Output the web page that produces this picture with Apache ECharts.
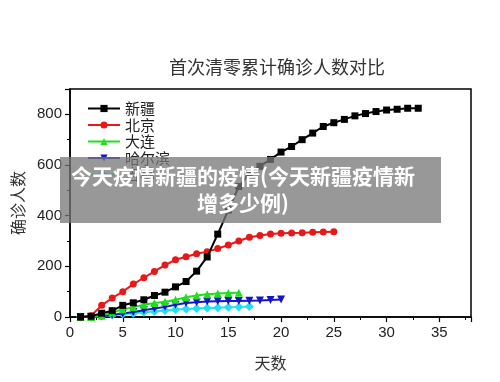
<!DOCTYPE html>
<html><head><meta charset="utf-8">
<script src="https://cdn.jsdelivr.net/npm/echarts@6/dist/echarts.min.js"></script>
<style>html,body{margin:0;padding:0;background:#fff}#c{width:500px;height:382px}</style>
</head><body><div id="c"></div>
<script>
const seriesNames = ['新疆', '北京', '大连', '哈尔滨', '吉林'];
const xinjiang = [0, 3, 15, 25, 46, 56, 68, 85, 98, 119, 140, 181, 237, 327, 422, 515, 568, 595, 622, 651, 673, 700, 726, 752, 767, 780, 794, 803, 811, 817, 820, 824, 824];
const beijing = [0, 5, 46, 75, 100, 130, 155, 180, 205, 226, 238, 250, 258, 270, 284, 300, 315, 322, 328, 331, 332, 333, 335, 336, 337];
const dalian = [0, 0, 5, 18, 30, 39, 48, 55, 60, 68, 78, 85, 90, 93, 95, 96];
const harbin = [0, 0, 3, 8, 14, 20, 27, 34, 40, 48, 55, 58, 61, 62, 63, 63, 64, 65, 67, 69];
const jilin = [0, 0, 4, 8, 12, 15, 19, 22, 26, 30, 32, 34, 36, 37, 38, 39, 41];
const xTickLabels = [0, 5, 10, 15, 20, 25, 30, 35];
const yTickLabels = [0, 200, 400, 600, 800];
const titleText = '首次清零累计确诊人数对比';
const xName = '天数';
const yName = '确诊人数';
const bannerText = '今天疫情新疆的疫情(今天新疆疫情新\n增多少例)';

const allValues = [xinjiang, beijing, dalian, harbin, jilin];
const colors = ['#000000', '#e81818', '#22dd22', '#1515c8', '#22e0f0'];
const symbols = ['rect', 'circle', 'triangle', 'triangle', 'diamond'];
const sizes = [7, 7, 8, 8, 9];
const rotates = [0, 0, 0, 180, 0];

const chart = echarts.init(document.getElementById('c'), null, {renderer: 'canvas'});
const labelFont = {color: '#222', fontSize: 15, fontFamily: 'Liberation Sans, Arial, sans-serif'};
chart.setOption({
  animation: false,
  backgroundColor: '#fff',
  title: {
    text: titleText, left: 272, top: 53, textAlign: 'center',
    textStyle: {fontSize: 18, fontWeight: 'normal', color: '#333', fontFamily: 'Noto Sans CJK SC'}
  },
  grid: {left: 70, right: 29, top: 89, bottom: 65, show: true, borderColor: '#000', borderWidth: 1.5, backgroundColor: 'transparent'},
  legend: {
    orient: 'vertical', left: 82, top: 96, itemWidth: 32, itemHeight: 9, itemGap: 1.5,
    textStyle: {fontSize: 15, lineHeight: 15, color: '#222', fontFamily: 'Noto Sans CJK SC'},
    data: seriesNames
  },
  xAxis: {
    type: 'value', min: 0, max: 38, interval: 5,
    name: xName, nameLocation: 'middle', nameGap: 38,
    nameTextStyle: {fontSize: 16, color: '#333', fontFamily: 'Noto Sans CJK SC'},
    axisLine: {lineStyle: {color: '#000', width: 1.5}},
    axisTick: {show: true, inside: false, length: 5, lineStyle: {color: '#000', width: 1.2}},
    minorTick: {show: true, splitNumber: 2, length: 3, lineStyle: {color: '#000', width: 1}},
    axisLabel: Object.assign({margin: 8, formatter: v => xTickLabels.includes(v) ? String(v) : ''}, labelFont),
    splitLine: {show: false}
  },
  yAxis: {
    type: 'value', min: 0, max: 900, interval: 200,
    name: yName, nameLocation: 'middle', nameGap: 42, nameRotate: 90,
    nameTextStyle: {fontSize: 16, color: '#333', fontFamily: 'Noto Sans CJK SC'},
    axisLine: {show: true, lineStyle: {color: '#000', width: 1.5}},
    axisTick: {show: true, inside: false, length: 5, lineStyle: {color: '#000', width: 1.2}},
    minorTick: {show: true, splitNumber: 2, length: 3, lineStyle: {color: '#000', width: 1}},
    axisLabel: Object.assign({margin: 8, formatter: v => yTickLabels.includes(v) ? String(v) : ''}, labelFont),
    splitLine: {show: false}
  },
  series: allValues.map((vals, i) => ({
    name: seriesNames[i], type: 'line',
    data: vals.map((v, d) => [d + 1, v]),
    symbol: symbols[i], symbolSize: sizes[i], symbolRotate: rotates[i],
    showAllSymbol: true,
    lineStyle: {color: colors[i], width: 2},
    itemStyle: {color: colors[i], borderWidth: 0},
    z: 10 - i
  })),
  graphic: [
    {type: 'rect', shape: {x: 60, y: 157, width: 381, height: 66}, style: {fill: 'rgba(120,120,120,0.76)'}, z: 100},
    {type: 'text', x: 243, y: 190, z: 101,
      style: {text: bannerText, fill: '#fff', fontSize: 21, fontWeight: 'bold', lineHeight: 27,
        fontFamily: 'Noto Sans CJK SC', align: 'center', verticalAlign: 'middle'}}
  ]
});
</script>
</body></html>
